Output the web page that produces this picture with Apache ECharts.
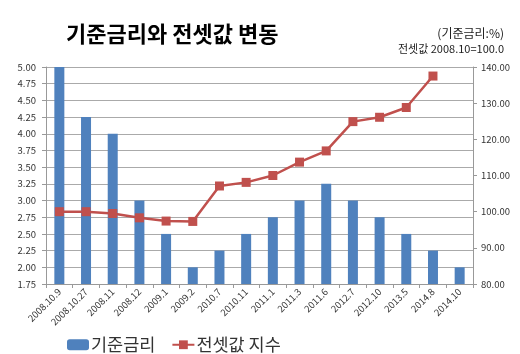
<!DOCTYPE html>
<html>
<head>
<meta charset="utf-8">
<script src="https://cdn.jsdelivr.net/npm/echarts@6/dist/echarts.min.js"></script>
<style>
  html, body { margin: 0; padding: 0; background: #fff; }
  #main { width: 520px; height: 354px; }
</style>
</head>
<body>
<div id="main"></div>
<script>
// 기준금리 / 전셋값 지수 데이터
var categories = ['2008.10.9', '2008.10.27', '2008.11', '2008.12', '2009.1', '2009.2', '2010.7', '2010.11',
  '2011.1', '2011.3', '2011.6', '2012.7', '2012.10', '2013.5', '2014.8', '2014.10']
var rateValues = [5.00, 4.25, 4.00, 3.00, 2.50, 2.00, 2.25, 2.50, 2.75, 3.00, 3.25, 3.00, 2.75, 2.50, 2.25, 2.00]
var jeonseIndex = [100.0, 100.0, 99.5, 98.3, 97.4, 97.3, 107.1, 108.1, 110.0, 113.7, 116.8, 124.9, 126.1, 128.8, 137.5, null]

var blue = '#4F81BD'
var red = '#C0504D'
var font = '"Noto Sans CJK KR", "Noto Sans", sans-serif'

var myChart = echarts.init(document.getElementById('main'))
var option = {
  animation: false,
  textStyle: {fontFamily: font},
  title: [
    {text: '기준금리와 전셋값 변동', left: 61, top: 18,
      textStyle: {fontSize: 22, fontWeight: 'bold', color: '#000', fontFamily: font}},
    {text: '(기준금리:%)', right: 11, top: 22,
      textStyle: {fontSize: 12, fontWeight: 'normal', color: '#222', fontFamily: font}},
    {text: '전셋값 2008.10=100.0', right: 11, top: 38,
      textStyle: {fontSize: 11, fontWeight: 'normal', color: '#222', fontFamily: font}}
  ],
  grid: {left: 46, right: 47, top: 67, bottom: 70},
  legend: {
    top: 331, left: 62,
    itemGap: 16,
    itemWidth: 22, itemHeight: 11,
    textStyle: {fontSize: 17.5, color: '#333', fontFamily: font, padding: [0, 0, 0, -3]},
    data: ['기준금리', '전셋값 지수']
  },
  xAxis: {
    type: 'category',
    data: categories,
    boundaryGap: true,
    axisLine: {lineStyle: {color: '#999'}},
    axisTick: {show: true, length: 4, lineStyle: {color: '#999'}},
    axisLabel: {rotate: 45, fontSize: 9.5, color: '#333', margin: 6, interval: 0}
  },
  yAxis: [
    {
      type: 'value', min: 1.75, max: 5, interval: 0.25,
      axisLine: {show: true, lineStyle: {color: '#999'}},
      axisTick: {show: true, length: 4, lineStyle: {color: '#999'}},
      axisLabel: {fontSize: 9.5, color: '#333', margin: 10, formatter: function (v) { return v.toFixed(2) }},
      splitLine: {lineStyle: {color: '#aaa', width: 1}}
    },
    {
      type: 'value', min: 80, max: 140, interval: 10, position: 'right',
      axisLine: {show: true, lineStyle: {color: '#999'}},
      axisTick: {show: true, length: 4, lineStyle: {color: '#999'}},
      axisLabel: {fontSize: 9.5, color: '#333', margin: 8, formatter: function (v) { return v.toFixed(2) }},
      splitLine: {show: false}
    }
  ],
  series: [
    {
      name: '기준금리', type: 'bar', yAxisIndex: 0,
      barWidth: 10,
      itemStyle: {color: blue},
      data: rateValues
    },
    {
      name: '전셋값 지수', type: 'line', yAxisIndex: 1,
      symbol: 'rect', symbolSize: 9,
      lineStyle: {color: red, width: 2.5},
      itemStyle: {color: red},
      data: jeonseIndex
    }
  ]
}
myChart.setOption(option, true)
</script>
</body>
</html>
